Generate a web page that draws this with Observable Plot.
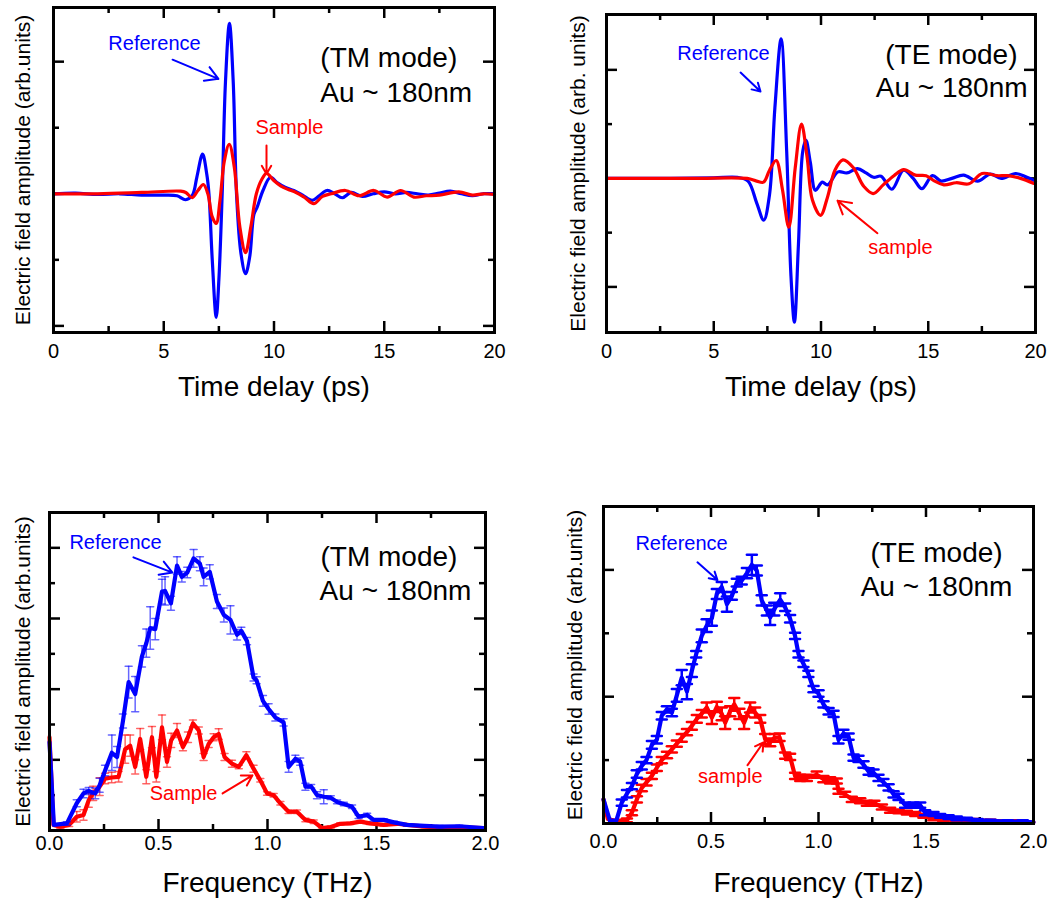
<!DOCTYPE html>
<html>
<head>
<meta charset="utf-8">
<script src="https://cdn.jsdelivr.net/npm/d3@7"></script>
<script src="https://cdn.jsdelivr.net/npm/@observablehq/plot@0.6"></script>
<style>
  body { margin: 0; background: #fff; }
  #wrap { position: relative; width: 1051px; height: 904px; background: #fff; }
  .pn { position: absolute; }
</style>
</head>
<body>
<div id="wrap"></div>
<script>
// ---------------- DATA ----------------
// Panel (a): TM mode, time domain
const tmRefT = [0,1,2,3,4,5,5.6,5.99,6.3,6.5,6.76,6.95,7.05,7.2,7.38,7.5,7.65,7.8,7.98,8.15,8.3,8.5,8.71,8.9,9.09,9.24,9.5,9.84,10.14,10.5,10.9,11.3,11.73,12.05,12.4,12.75,13.1,13.5,14.0,14.5,15.0,15.5,16.0,16.5,17.0,17.5,18.0,18.5,19.0,19.5,20];
const tmRefV = [0,0.01,-0.01,0,-0.02,-0.02,-0.03,-0.09,-0.02,0.25,0.6,0.3,0,-1.0,-1.87,-1.3,0,1.7,2.58,1.7,0,-0.9,-1.21,-0.95,-0.31,-0.2,0.05,0.25,0.17,0.1,0.05,-0.02,-0.1,-0.03,0.05,0,-0.06,0.02,-0.04,0,0.03,0,0.02,0,-0.02,0.01,0.04,0,-0.03,0,0];
const tmSamT = [0,2,4,5.77,6.0,6.29,6.55,6.8,7.0,7.2,7.38,7.55,7.75,7.97,8.2,8.45,8.71,8.95,9.2,9.45,9.66,9.99,10.3,10.6,11.0,11.4,11.8,12.2,12.6,13.24,13.85,14.53,15.13,15.74,16.34,16.9,17.5,18.38,19.0,19.5,20];
const tmSamV = [0,0,0.02,0.04,0.02,-0.06,0.05,0.14,0,-0.35,-0.45,-0.1,0.5,0.75,0.4,-0.5,-0.89,-0.5,0,0.22,0.31,0.2,0.12,0.07,0.02,-0.06,-0.15,-0.04,0,0.05,-0.03,0.05,-0.05,0.05,-0.05,-0.03,-0.02,0.03,-0.02,0,-0.01];

// Panel (b): TE mode, time domain
const teRefT = [0,3,5,6.1,6.6,7.0,7.33,7.6,7.85,8.14,8.4,8.6,8.76,8.95,9.15,9.3,9.5,9.74,10.06,10.3,10.8,11.2,11.7,12.1,12.45,12.8,13.3,13.85,14.3,14.7,15.2,15.6,16.1,16.65,17.3,17.9,18.4,19.07,19.6,20];
const teRefV = [0,0,0.01,0.02,-0.05,-0.45,-0.77,-0.3,1.3,2.57,0.5,-1.8,-2.65,-1.2,0.5,0.7,0.3,-0.22,-0.07,-0.12,0.12,0.1,0.18,0.1,0.02,0.04,-0.2,0.15,0,-0.19,0.05,-0.05,0,0.06,-0.05,0.08,0,0.09,0.02,-0.05];
const teSamT = [0,4,6.56,7.0,7.32,7.6,7.91,8.2,8.5,8.8,9.09,9.35,9.6,9.98,10.3,10.65,11.02,11.5,12.0,12.43,12.9,13.4,13.86,14.4,14.9,15.3,15.73,16.3,16.9,17.51,18.2,18.7,19.3,19.9];
const teSamV = [0,0,0,-0.05,-0.07,0.15,0.33,-0.2,-0.9,0.2,1.0,0.4,-0.4,-0.68,-0.35,0.15,0.34,0.2,-0.15,-0.28,-0.12,0.05,0.16,0.06,0.05,-0.05,-0.12,-0.08,-0.1,0.09,0.05,0.05,0,-0.09];

// Panel (c): TM mode, frequency domain (value, error)
const tmfRefF = [0,0.02,0.08,0.125,0.156,0.18,0.21,0.23,0.255,0.286,0.31,0.337,0.363,0.393,0.424,0.444,0.462,0.485,0.516,0.53,0.557,0.585,0.607,0.632,0.661,0.69,0.707,0.735,0.768,0.8,0.83,0.86,0.88,0.906,0.936,0.95,0.979,1.005,1.036,1.074,1.097,1.128,1.15,1.174,1.2,1.227,1.258,1.29,1.319,1.35,1.388,1.418,1.457,1.487,1.533,1.58,1.64,1.72,1.79,1.88,1.99];
const tmfRefV = [2.5,0.16,0.2,0.77,1.05,1.12,1.05,1.28,1.7,2.2,2.08,3.1,4.2,3.86,4.93,5.3,5.73,5.7,6.76,6.78,6.43,7.5,7.18,7.3,7.7,7.55,7.18,7.32,6.48,6.1,5.96,5.54,5.65,5.36,4.33,4.25,3.67,3.44,3.2,3.06,1.8,2.03,1.95,1.24,1.25,1.0,0.955,0.93,0.81,0.75,0.67,0.39,0.44,0.3,0.3,0.23,0.16,0.13,0.11,0.12,0.07];
const tmfRefE = [0,0,0.05,0.1,0.12,0.1,0.15,0.2,0.15,0.5,0.3,0.2,0.45,0.5,0.3,0.4,0.6,0.3,0.35,0.4,0.2,0.25,0.15,0.15,0.25,0.2,0.25,0.2,0.2,0.2,0.4,0.15,0.1,0.1,0.1,0.1,0.15,0.15,0.1,0.1,0.15,0.1,0.1,0.1,0.05,0.1,0.2,0.05,0.05,0.05,0.05,0.05,0.05,0.03,0.03,0.03,0.03,0.03,0.03,0.03,0];
const tmfSamF = [0,0.018,0.05,0.09,0.125,0.156,0.18,0.2,0.23,0.255,0.285,0.317,0.347,0.37,0.393,0.416,0.444,0.47,0.49,0.516,0.539,0.558,0.585,0.612,0.635,0.658,0.685,0.707,0.73,0.753,0.776,0.803,0.837,0.868,0.903,0.936,0.967,0.998,1.028,1.059,1.097,1.135,1.174,1.212,1.25,1.29,1.334,1.38,1.426,1.47,1.533,1.595,1.64,1.72,1.79,1.88,1.99];
const tmfSamV = [2.64,0.16,0.11,0.16,0.39,0.44,0.86,1.05,1.24,1.47,1.5,1.52,2.3,2.4,1.8,2.59,1.52,2.64,1.52,2.92,1.94,2.55,2.83,2.36,2.64,3.03,2.83,2.08,2.45,2.64,2.73,2.08,1.89,1.8,2.13,1.75,1.42,1.05,1.0,0.77,0.53,0.53,0.3,0.25,0.07,0.1,0.19,0.2,0.25,0.2,0.16,0.19,0.16,0.11,0.09,0.09,0.07];
const tmfSamE = [0,0,0.05,0.05,0.15,0.15,0.2,0.2,0.25,0.15,0.15,0.15,0.4,0.3,0.2,0.3,0.2,0.3,0.15,0.35,0.15,0.2,0.2,0.1,0.15,0.1,0.1,0.1,0.1,0.1,0.15,0.1,0.1,0.05,0.1,0.1,0.05,0.05,0.05,0.05,0.05,0.05,0.05,0.05,0.03,0.03,0.03,0.03,0.03,0.03,0.03,0.03,0.03,0.03,0.03,0.03,0];

// Panel (d): TE mode, frequency domain (value, error)
const tefRefF = [0,0.03,0.06,0.085,0.109,0.132,0.155,0.178,0.2,0.225,0.248,0.271,0.295,0.318,0.341,0.364,0.388,0.411,0.431,0.457,0.48,0.504,0.527,0.55,0.574,0.597,0.62,0.643,0.667,0.69,0.713,0.736,0.76,0.775,0.794,0.822,0.845,0.868,0.891,0.907,0.93,0.953,0.977,1.0,1.023,1.047,1.07,1.093,1.116,1.14,1.163,1.186,1.209,1.233,1.256,1.279,1.302,1.326,1.349,1.372,1.403,1.442,1.473,1.496,1.535,1.566,1.605,1.643,1.69,1.74,1.8,1.88,1.95,2.0];
const tefRefV = [0.38,0.04,0.05,0.33,0.47,0.59,0.78,0.91,1.0,1.24,1.32,1.7,1.8,1.75,2.02,2.3,2.08,2.41,2.67,2.96,3.12,3.24,3.62,3.73,3.46,3.59,3.8,3.83,3.95,4.08,3.99,3.52,3.36,3.25,3.38,3.53,3.41,3.23,2.96,2.67,2.52,2.36,2.12,2.05,1.88,1.77,1.73,1.32,1.42,1.37,1.04,1.02,0.93,0.82,0.8,0.72,0.65,0.57,0.46,0.42,0.29,0.29,0.29,0.17,0.15,0.12,0.1,0.08,0.07,0.05,0.04,0.03,0.03,0.02];
const tefRefE = [0,0,0,0.05,0.06,0.05,0.06,0.06,0.05,0.06,0.06,0.06,0.05,0.06,0.1,0.12,0.12,0.1,0.05,0.1,0.1,0.12,0.08,0.08,0.12,0.06,0.06,0.06,0.08,0.16,0.08,0.08,0.08,0.12,0.1,0.1,0.06,0.06,0.05,0.05,0.05,0.05,0.05,0.05,0.05,0.05,0.05,0.06,0.06,0.05,0.05,0.05,0.05,0.05,0.05,0.05,0.05,0.05,0.05,0.05,0.04,0.04,0.04,0.04,0.03,0.03,0.03,0.03,0.02,0.02,0.02,0.02,0.02,0];
const tefSamF = [0,0.02,0.06,0.109,0.132,0.155,0.178,0.2,0.225,0.248,0.271,0.295,0.318,0.341,0.364,0.388,0.411,0.434,0.457,0.48,0.504,0.527,0.55,0.566,0.589,0.608,0.632,0.654,0.682,0.705,0.729,0.752,0.775,0.794,0.819,0.845,0.868,0.891,0.915,0.946,0.992,1.023,1.054,1.085,1.093,1.124,1.155,1.194,1.225,1.26,1.295,1.333,1.372,1.411,1.45,1.488,1.535,1.58,1.64,1.72,1.8,1.9,2.0];
const tefSamV = [0.38,0.07,0.04,0.05,0.17,0.38,0.56,0.65,0.75,0.88,1.0,1.08,1.17,1.26,1.35,1.44,1.54,1.65,1.73,1.83,1.67,1.84,1.73,1.59,1.77,1.88,1.73,1.59,1.83,1.75,1.65,1.33,1.28,1.35,1.36,1.07,1.05,0.75,0.72,0.72,0.77,0.7,0.68,0.67,0.51,0.46,0.38,0.36,0.32,0.32,0.26,0.21,0.19,0.17,0.15,0.12,0.08,0.07,0.05,0.05,0.04,0.03,0.02];
const tefSamE = [0,0,0,0.03,0.04,0.05,0.05,0.05,0.05,0.05,0.05,0.05,0.05,0.05,0.06,0.05,0.06,0.06,0.06,0.08,0.1,0.08,0.1,0.1,0.08,0.1,0.08,0.1,0.08,0.08,0.06,0.08,0.06,0.06,0.06,0.05,0.05,0.05,0.05,0.05,0.05,0.05,0.05,0.04,0.04,0.04,0.04,0.04,0.04,0.04,0.04,0.04,0.03,0.03,0.03,0.03,0.03,0.03,0.02,0.02,0.02,0.02,0];

// Axis tick values & labels
const timeMajor = [0,5,10,15,20];
const timeMinor = [2.5,7.5,12.5,17.5];
const freqMajor = [0,0.5,1.0,1.5,2.0];
const freqMinor = [0.25,0.75,1.25,1.75];
const yLabelTM = "Electric field amplitude (arb.units)";
const yLabelTE = "Electric field amplitude (arb. units)";
const xLabelTime = "Time delay (ps)";
const xLabelFreq = "Frequency (THz)";

// ---------------- DRAWING ----------------
const BLUE = "#0000ff", RED = "#ff0000";
const FONT = "'Liberation Sans', Arial, Helvetica, sans-serif";
const zip = (xs, ys, es) => xs.map((x, i) => ({x, y: ys[i], e: es ? es[i] : 0}));
const capShape = {draw(ctx, l) { ctx.moveTo(0, 0); ctx.lineTo(0, -l); }};

function panel(c) {
  const iw = c.width - c.ml - c.mr, ih = c.height - c.mt - c.mb;
  const MAJ = 11, MIN = 6;
  const tk = {stroke: "black", strokeWidth: 2.5};
  const marks = [];
  for (const [vals, len] of [[c.xMajor, MAJ], [c.xMinor, MIN]]) {
    marks.push(Plot.ruleX(vals, {x: d => d, insetTop: ih - len, ...tk}));
    marks.push(Plot.ruleX(vals, {x: d => d, insetBottom: ih - len, ...tk}));
  }
  for (const [vals, len] of [[c.yMajor, MAJ], [c.yMinor, MIN]]) {
    marks.push(Plot.ruleY(vals, {y: d => d, insetRight: iw - len, ...tk}));
    marks.push(Plot.ruleY(vals, {y: d => d, insetLeft: iw - len, ...tk}));
  }
  for (const s of c.series) {
    const data = zip(s.x, s.y, s.e);
    if (s.e) {
      const eb = data.filter(d => d.e > 0);
      marks.push(Plot.ruleX(eb, {x: "x", y1: d => d.y - d.e, y2: d => d.y + d.e, stroke: s.color, strokeWidth: c.errW, strokeOpacity: c.errOp}));
      for (const sgn of [1, -1]) {
        marks.push(Plot.vector(eb, {x: "x", y: d => d.y + sgn * d.e, length: c.capW, rotate: 90, anchor: "middle", shape: capShape, stroke: s.color, strokeWidth: c.errW, strokeOpacity: c.errOp}));
      }
    }
    marks.push(Plot.line(data, {x: "x", y: "y", stroke: s.color, strokeWidth: c.lineW, curve: c.curve, strokeLinejoin: "round"}));
  }
  for (const a of c.arrows) {
    marks.push(Plot.arrow([a], {x1: "x1", y1: "y1", x2: "x2", y2: "y2", stroke: a.color, strokeWidth: 2, headLength: 11}));
  }
  for (const t of c.texts) {
    marks.push(Plot.text([t], {x: "x", y: "y", text: "t", fill: t.color, fontSize: t.size, textAnchor: t.anchor || "middle"}));
  }
  marks.push(Plot.frame({stroke: "black", strokeWidth: 3}));
  marks.push(Plot.axisX(c.xMajor, {tickSize: 0, tickPadding: c.tickPad, fontSize: 20, tickFormat: c.xFormat, label: null}));
  marks.push(Plot.text([c.xLabel], {frameAnchor: "bottom", dy: c.xLabelDy, fontSize: 28, fill: "black", textAnchor: "middle"}));
  marks.push(Plot.text([c.yLabel], {frameAnchor: "left", dx: -c.yLabelDx, rotate: -90, fontSize: 21, fill: "black", textAnchor: "middle"}));
  return Plot.plot({
    width: c.width, height: c.height,
    marginLeft: c.ml, marginRight: c.mr, marginTop: c.mt, marginBottom: c.mb,
    x: {domain: c.xDomain, axis: null},
    y: {domain: c.yDomain, axis: null},
    style: {fontFamily: FONT, fontSize: "20px", color: "black", background: "white", overflow: "visible"},
    marks
  });
}

const wrap = document.getElementById("wrap");
function place(svg, left, top) {
  const d = document.createElement("div");
  d.className = "pn";
  d.style.left = left + "px";
  d.style.top = top + "px";
  d.appendChild(svg);
  wrap.appendChild(d);
}

// (a) TM time
place(panel({
  width: 525, height: 420, ml: 53, mr: 31, mt: 7, mb: 88,
  xDomain: [0, 20], yDomain: [-2.1, 2.82],
  xMajor: timeMajor, xMinor: timeMinor, yMajor: [-2, 0, 2], yMinor: [-1, 1],
  xFormat: d3.format("d"), tickPad: 11,
  xLabel: xLabelTime, xLabelDy: 63, yLabel: yLabelTM, yLabelDx: 30,
  lineW: 3.2, curve: "catmull-rom",
  series: [{x: tmRefT, y: tmRefV, color: BLUE}, {x: tmSamT, y: tmSamV, color: RED}],
  texts: [
    {x: 4.58, y: 2.27, t: "Reference", color: BLUE, size: 20},
    {x: 12.1, y: 2.06, t: "(TM mode)", color: "black", size: 28, anchor: "start"},
    {x: 12.1, y: 1.53, t: "Au ~ 180nm", color: "black", size: 28, anchor: "start"},
    {x: 10.7, y: 1.0, t: "Sample", color: RED, size: 20}
  ],
  arrows: [
    {x1: 5.4, y1: 2.03, x2: 7.48, y2: 1.74, color: BLUE},
    {x1: 9.66, y1: 0.73, x2: 9.66, y2: 0.3, color: RED}
  ]
}), 0, 0);

// (b) TE time
place(panel({
  width: 526, height: 420, ml: 81, mr: 16, mt: 14, mb: 88,
  xDomain: [0, 20], yDomain: [-2.84, 3.02],
  xMajor: timeMajor, xMinor: timeMinor, yMajor: [-2, 0, 2], yMinor: [-1, 1],
  xFormat: d3.format("d"), tickPad: 11,
  xLabel: xLabelTime, xLabelDy: 63, yLabel: yLabelTE, yLabelDx: 28,
  lineW: 3.2, curve: "catmull-rom",
  series: [{x: teRefT, y: teRefV, color: BLUE}, {x: teSamT, y: teSamV, color: RED}],
  texts: [
    {x: 5.45, y: 2.3, t: "Reference", color: BLUE, size: 20},
    {x: 19.16, y: 2.27, t: "(TE mode)", color: "black", size: 28, anchor: "end"},
    {x: 19.63, y: 1.66, t: "Au ~ 180nm", color: "black", size: 28, anchor: "end"},
    {x: 13.7, y: -1.27, t: "sample", color: RED, size: 20}
  ],
  arrows: [
    {x1: 6.25, y1: 1.95, x2: 7.18, y2: 1.6, color: BLUE},
    {x1: 12.63, y1: -1.01, x2: 10.77, y2: -0.41, color: RED}
  ]
}), 525, 0);

// (c) TM frequency
place(panel({
  width: 525, height: 464, ml: 49, mr: 40, mt: 72, mb: 74,
  xDomain: [0, 2], yDomain: [0, 9],
  xMajor: freqMajor, xMinor: freqMinor, yMajor: [2, 4, 6, 8], yMinor: [1, 3, 5, 7],
  xFormat: d3.format(".1f"), tickPad: 5,
  xLabel: xLabelFreq, xLabelDy: 61, yLabel: yLabelTM, yLabelDx: 26,
  lineW: 4.2, curve: "linear", errW: 1.5, errOp: 0.6, capW: 7,
  series: [{x: tmfSamF, y: tmfSamV, e: tmfSamE, color: RED}, {x: tmfRefF, y: tmfRefV, e: tmfRefE, color: BLUE}],
  texts: [
    {x: 0.303, y: 8.15, t: "Reference", color: BLUE, size: 20},
    {x: 1.243, y: 7.73, t: "(TM mode)", color: "black", size: 28, anchor: "start"},
    {x: 1.239, y: 6.79, t: "Au ~ 180nm", color: "black", size: 28, anchor: "start"},
    {x: 0.615, y: 1.05, t: "Sample", color: RED, size: 20}
  ],
  arrows: [
    {x1: 0.385, y1: 7.73, x2: 0.564, y2: 7.3, color: BLUE},
    {x1: 0.794, y1: 1.05, x2: 0.931, y2: 1.56, color: RED}
  ]
}), 0, 440);

// (d) TE frequency
place(panel({
  width: 526, height: 464, ml: 78, mr: 18, mt: 66, mb: 81,
  xDomain: [0, 2], yDomain: [0, 5],
  xMajor: freqMajor, xMinor: freqMinor, yMajor: [2, 4], yMinor: [1, 3],
  xFormat: d3.format(".1f"), tickPad: 10,
  xLabel: xLabelFreq, xLabelDy: 68, yLabel: yLabelTM, yLabelDx: 28,
  lineW: 4.2, curve: "linear", errW: 2.5, errOp: 1, capW: 10,
  series: [{x: tefSamF, y: tefSamV, e: tefSamE, color: RED}, {x: tefRefF, y: tefRefV, e: tefRefE, color: BLUE}],
  texts: [
    {x: 0.363, y: 4.42, t: "Reference", color: BLUE, size: 20},
    {x: 1.549, y: 4.27, t: "(TE mode)", color: "black", size: 28},
    {x: 1.549, y: 3.73, t: "Au ~ 180nm", color: "black", size: 28},
    {x: 0.59, y: 0.74, t: "sample", color: RED, size: 20}
  ],
  arrows: [
    {x1: 0.437, y1: 4.12, x2: 0.53, y2: 3.84, color: BLUE},
    {x1: 0.67, y1: 0.92, x2: 0.744, y2: 1.28, color: RED}
  ]
}), 525, 440);
</script>
</body>
</html>
